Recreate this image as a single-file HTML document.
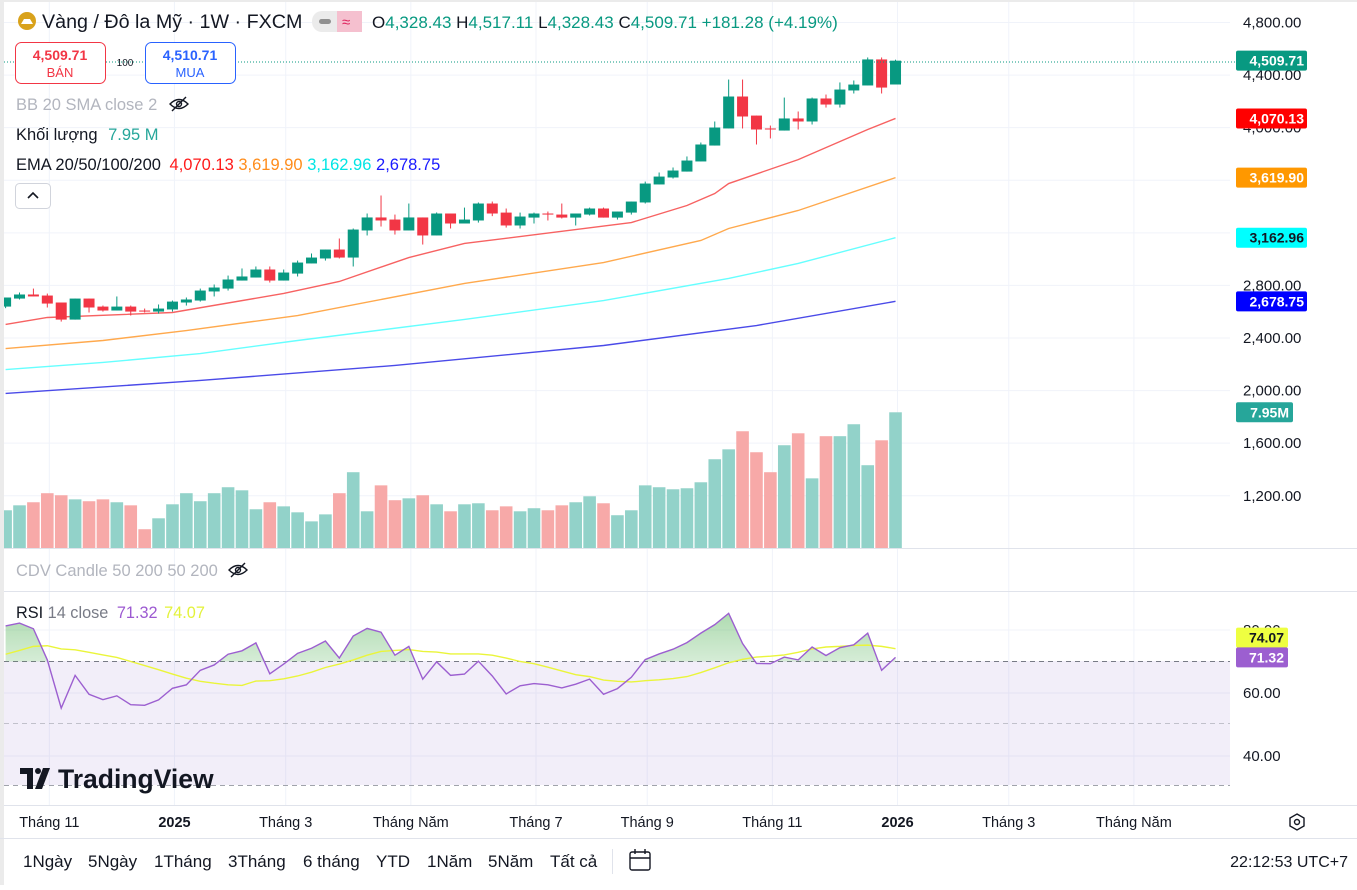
<!DOCTYPE html>
<html><head><meta charset="utf-8">
<style>
html,body{margin:0;padding:0;background:#fff;}
body{width:1357px;height:885px;overflow:hidden;font-family:"Liberation Sans","Noto Sans CJK SC",sans-serif;}
svg text{font-family:"Liberation Sans","Noto Sans CJK SC",sans-serif;}
</style></head>
<body>
<svg id="chart" width="1357" height="885" viewBox="0 0 1357 885" xmlns="http://www.w3.org/2000/svg">
<defs>
<linearGradient id="rsiGreen" x1="0" y1="0" x2="0" y2="1">
<stop offset="0" stop-color="#4caf50" stop-opacity="0.45"/>
<stop offset="1" stop-color="#4caf50" stop-opacity="0.02"/>
</linearGradient>
<clipPath id="plotClip"><rect x="4" y="0" width="1226" height="885"/></clipPath>
<clipPath id="above70"><rect x="4" y="592" width="1226" height="69.5"/></clipPath>
</defs>
<rect x="0" y="0" width="1357" height="885" fill="#fff"/>
<rect x="0" y="0" width="4" height="885" fill="#ebebeb"/>
<rect x="0" y="0" width="1357" height="2" fill="#ebebeb"/>
<g id="grid"></g>
<rect x="4" y="661" width="1226" height="124" fill="#7e57c2" fill-opacity="0.1"/>
<line x1="4" y1="661.5" x2="1230" y2="661.5" stroke="#787b86" stroke-dasharray="5,4"/>
<line x1="4" y1="723.5" x2="1230" y2="723.5" stroke="#a0a3ab" stroke-opacity="0.6" stroke-dasharray="5,4"/>
<line x1="4" y1="785.5" x2="1230" y2="785.5" stroke="#a0a3ab" stroke-dasharray="5,4"/>
<line x1="4" y1="548.5" x2="1357" y2="548.5" stroke="#e0e3eb"/>
<line x1="4" y1="591.5" x2="1357" y2="591.5" stroke="#e0e3eb"/>
<line x1="4" y1="805.5" x2="1357" y2="805.5" stroke="#e0e3eb"/>
<line x1="0" y1="838.5" x2="1357" y2="838.5" stroke="#e0e3eb"/>
<g id="vol" clip-path="url(#plotClip)"></g>
<g id="ema" clip-path="url(#plotClip)"></g>
<g id="candles" clip-path="url(#plotClip)"></g>
<line x1="4" y1="62" x2="1236" y2="62" stroke="#089981" stroke-dasharray="1,2"/>
<g id="rsi" clip-path="url(#plotClip)"></g>
<g id="axis"></g>

<!-- header -->
<circle cx="27" cy="21" r="9" fill="#d9a21b"/>
<path d="M21 24 L33 24 L30 19 L24 19 Z" fill="#fff"/>
<text x="42" y="28" font-size="19.7" fill="#131722">Vàng / Đô la Mỹ · 1W · FXCM</text>
<rect x="312" y="11" width="50" height="21" rx="10" fill="#ebebeb"/>
<rect x="337" y="11" width="25" height="21" rx="0" fill="#f5c0cf"/>
<rect x="319" y="19" width="12" height="5" rx="2.5" fill="#909090"/>
<text x="342" y="27" font-size="15" fill="#e0245e">≈</text>
<text x="372" y="28" font-size="17" fill="#131722">O<tspan fill="#089981">4,328.43</tspan> H<tspan fill="#089981">4,517.11</tspan> L<tspan fill="#089981">4,328.43</tspan> C<tspan fill="#089981">4,509.71</tspan> <tspan fill="#089981">+181.28 (+4.19%)</tspan></text>
<g>
<rect x="15.5" y="42.5" width="90" height="41" rx="6" fill="#fff" stroke="#f23645"/>
<text x="60" y="60" font-size="14" font-weight="bold" fill="#f23645" text-anchor="middle">4,509.71</text>
<text x="60" y="77" font-size="13" fill="#f23645" text-anchor="middle">BÁN</text>
</g>
<text x="125" y="66" font-size="10" fill="#131722" text-anchor="middle">100</text>
<g>
<rect x="145.5" y="42.5" width="90" height="41" rx="6" fill="#fff" stroke="#2962ff"/>
<text x="190" y="60" font-size="14" font-weight="bold" fill="#2962ff" text-anchor="middle">4,510.71</text>
<text x="190" y="77" font-size="13" fill="#2962ff" text-anchor="middle">MUA</text>
</g>
<text x="16" y="110" font-size="16.5" fill="#b2b5be">BB 20 SMA close 2</text>
<g stroke="#131722" stroke-width="1.4" fill="none">
<path d="M170 104 Q179 95 188 104 Q179 113 170 104 Z"/><circle cx="179" cy="104" r="2.5"/><line x1="172" y1="111" x2="186" y2="97"/>
</g>
<text x="16" y="140" font-size="16.5" fill="#131722">Khối lượng <tspan dx="6" fill="#26a69a">7.95 M</tspan></text>
<text x="16" y="170" font-size="16.5" fill="#131722">EMA 20/50/100/200 <tspan dx="4" fill="#ff1a1a">4,070.13</tspan> <tspan fill="#ff8c1a">3,619.90</tspan> <tspan fill="#00e5e5">3,162.96</tspan> <tspan fill="#1a1aff">2,678.75</tspan></text>
<g>
<rect x="15.5" y="183.5" width="35" height="25" rx="4" fill="#fff" stroke="#d1d4dc"/>
<path d="M28 198 L33 193 L38 198" stroke="#131722" stroke-width="1.6" fill="none"/>
</g>
<text x="16" y="576" font-size="16.5" fill="#b2b5be">CDV Candle 50 200 50 200</text>
<g stroke="#131722" stroke-width="1.4" fill="none">
<path d="M229 570 Q238 561 247 570 Q238 579 229 570 Z"/><circle cx="238" cy="570" r="2.5"/><line x1="231" y1="577" x2="245" y2="563"/>
</g>
<text x="16" y="618" font-size="16.3" fill="#131722">RSI <tspan fill="#787b86">14 close</tspan> <tspan dx="4" fill="#9c59d1">71.32</tspan> <tspan dx="2" fill="#e3f23a">74.07</tspan></text>

<g>
<path d="M20 768 L33 768 L33 789 L27 789 L27 774 L20 774 Z" fill="#131722"/>
<circle cx="38" cy="771" r="3" fill="#131722"/>
<path d="M43 768 L50 768 L42 789 L35 789 Z" fill="#131722"/>
<text x="58" y="788" font-size="26.5" font-weight="bold" fill="#131722">TradingView</text>
</g>
<g id="timeaxis"></g>
<g fill="none" stroke="#131722" stroke-width="1.4">
<path d="M1297 814 L1304 818 L1304 826 L1297 830 L1290 826 L1290 818 Z"/><circle cx="1297" cy="822" r="2.5"/>
</g>
<g id="toolbar"></g>
<line x1="612.5" y1="849" x2="612.5" y2="874" stroke="#e0e3eb"/>
<g fill="none" stroke="#131722" stroke-width="1.4">
<rect x="630" y="852" width="20" height="18" rx="2"/><line x1="630" y1="858" x2="650" y2="858"/><line x1="635" y1="849" x2="635" y2="854"/><line x1="645" y1="849" x2="645" y2="854"/>
</g>
<text x="1348" y="867" font-size="16" fill="#131722" text-anchor="end">22:12:53 UTC+7</text>
</svg>
<script>
const opens=[2639,2700,2731,2723,2670,2540,2700,2639,2609,2639,2609,2601,2617,2670,2685,2754,2776,2837,2860,2921,2837,2890,2967,3005,3073,3012,3218,3317,3301,3218,3317,3180,3347,3271,3294,3423,3354,3256,3316,3347,3339,3316,3339,3385,3316,3354,3431,3568,3621,3666,3743,3864,3994,4237,4092,3994,3978,4070,4047,4222,4176,4283,4321,4519,4328.43];
const highs=[2708,2746,2776,2738,2670,2700,2700,2647,2716,2647,2624,2655,2685,2708,2776,2807,2875,2929,2944,2944,2921,2989,3043,3073,3157,3233,3347,3484,3339,3423,3317,3355,3347,3392,3431,3438,3385,3354,3354,3362,3423,3347,3392,3392,3362,3438,3590,3659,3697,3781,3887,4047,4366,4366,4092,4016,4229,4123,4229,4252,4344,4359,4534,4534,4517.11];
const lows=[2627,2693,2716,2632,2525,2540,2594,2601,2609,2571,2594,2586,2601,2647,2677,2716,2761,2837,2860,2822,2837,2868,2967,2989,3005,2944,3180,3248,3187,3218,3111,3180,3233,3271,3278,3327,3240,3233,3271,3294,3309,3256,3332,3316,3301,3339,3423,3568,3613,3666,3743,3864,3994,3994,3872,3918,3978,3986,4024,4153,4153,4260,4321,4260,4328.43];
const closes=[2708,2731,2716,2662,2540,2700,2632,2609,2639,2601,2601,2624,2677,2693,2761,2784,2845,2868,2921,2837,2898,2974,3012,3073,3012,3225,3317,3294,3218,3317,3180,3347,3271,3301,3423,3347,3256,3324,3347,3339,3316,3347,3385,3316,3362,3438,3575,3628,3674,3750,3872,4001,4237,4085,3986,3986,4070,4047,4222,4176,4290,4328,4519,4305,4509.71];
const volumes=[2.21,2.50,2.68,3.21,3.09,2.85,2.74,2.85,2.68,2.50,1.10,1.74,2.56,3.21,2.74,3.21,3.56,3.38,2.27,2.68,2.44,2.09,1.56,1.97,3.21,4.44,2.15,3.67,2.80,2.91,3.09,2.56,2.15,2.56,2.62,2.21,2.44,2.15,2.33,2.21,2.50,2.68,3.03,2.62,1.92,2.21,3.67,3.56,3.44,3.50,3.85,5.20,5.78,6.84,5.61,4.44,6.02,6.72,4.08,6.55,6.55,7.25,4.85,6.31,7.95];
const ema20Idx=[0,3,12,20,24,29,33,45,49,51,52,57,62,64];
const ema20=[2503,2556,2594,2739,2830,3012,3119,3278,3408,3499,3575,3757,3986,4070.13];
const ema50Idx=[0,7,13,21,33,43,50,52,57,64];
const ema50=[2320,2381,2457,2571,2815,2974,3142,3233,3370,3619.9];
const ema100Idx=[0,7,14,21,33,43,52,57,64];
const ema100=[2160,2214,2282,2381,2541,2685,2853,2967,3162.96];
const ema200Idx=[0,14,28,43,54,64];
const ema200=[1978,2077,2191,2343,2495,2678.75];
const rsiValues=[81.3,82.2,80.4,70.5,55.2,65.6,59.6,57.9,59.1,56.3,56.1,57.8,61.5,62.6,67.2,68.9,72.3,73.4,75.9,66.1,69.2,72.6,74.2,76.5,71.1,78.1,80.5,79.3,72.0,74.8,64.4,69.9,65.6,66.0,70.1,65.4,59.7,62.3,63.0,62.6,61.6,62.8,64.4,59.6,61.4,65.0,70.6,72.4,73.9,76.0,79.0,81.7,85.3,75.7,69.4,69.3,71.4,70.5,74.6,71.9,74.4,75.3,79.0,67.2,71.32];
const rsiMA=[72.3,73.5,74.8,75.0,74.0,73.7,72.9,72.1,71.3,70.0,68.7,67.4,66.0,64.7,63.7,63.1,62.6,62.4,63.8,63.9,64.5,65.4,66.6,68.1,69.2,70.5,72.0,73.2,73.5,73.8,73.2,73.0,72.4,72.4,72.4,72.0,71.1,70.0,69.3,68.2,67.0,65.8,65.2,64.1,63.7,63.5,63.9,64.2,64.6,65.2,66.5,68.0,69.6,70.7,71.4,71.7,72.1,72.9,74.0,74.6,74.8,75.1,75.2,74.8,74.07];
const priceTicks=[4800,4400,4000,3600,3200,2800,2400,2000,1600,1200];
const priceTickLabels=["4,800.00","4,400.00","4,000.00","3,600.00","3,200.00","2,800.00","2,400.00","2,000.00","1,600.00","1,200.00"];
const rsiTicks=[80,60,40];
const rsiTickLabels=["80.00","60.00","40.00"];
const timeLabels=["Tháng 11","2025","Tháng 3","Tháng Năm","Tháng 7","Tháng 9","Tháng 11","2026","Tháng 3","Tháng Năm"];
const timeLabelIdx=[3,12,20,29,38,46,55,64,72,81];
const timeLabelBold=[false,true,false,false,false,false,false,true,false,false];
const rangeButtons=["1Ngày","5Ngày","1Tháng","3Tháng","6 tháng","YTD","1Năm","5Năm","Tất cả"];

const NS="http://www.w3.org/2000/svg";
const X0=5.6, STEP=13.905;
const xOf=i=>X0+i*STEP;
const yP=p=>22.5+(4800-p)*0.13146;
const VOLBASE=548, VOLK=17.07;
const yV=v=>VOLBASE-v*VOLK;
const yR=r=>661.5-(r-70)*3.15;
function mk(tag,attrs,parent){const e=document.createElementNS(NS,tag);for(const k in attrs)e.setAttribute(k,attrs[k]);parent.appendChild(e);return e;}

// grid
const grid=document.getElementById('grid');
priceTicks.forEach(p=>{const l=mk('line',{x1:4,x2:1230,y1:yP(p),y2:yP(p),stroke:'#f0f3fa'},grid);

});
rsiTicks.forEach(r=>{const l=mk('line',{x1:4,x2:1230,y1:yR(r),y2:yR(r),stroke:'#f0f3fa'},grid);

});
timeLabelIdx.forEach(i=>{const x=xOf(i)+2;const l=mk('line',{x1:x,x2:x,y1:2,y2:805,stroke:'#f0f3fa'},grid);

});

// volume
const vol=document.getElementById('vol');
volumes.forEach((v,i)=>{const up=closes[i]>=opens[i];
const r=mk('rect',{x:xOf(i)-6.3,y:yV(v),width:12.6,height:v*VOLK,fill:up?'#92d2c9':'#f7a9a8'},vol);

});

// ema
const ema=document.getElementById('ema');
[[ema200Idx,ema200,'#4a4ae8','ema-200-line'],[ema100Idx,ema100,'#66ffff','ema-100-line'],[ema50Idx,ema50,'#ffa94d','ema-50-line'],[ema20Idx,ema20,'#f76262','ema-20-line']].forEach(s=>{
const pts=s[0].map((ix,k)=>xOf(ix)+','+yP(s[1][k])).join(' ');
const pl=mk('polyline',{points:pts,fill:'none',stroke:s[2],'stroke-width':1.4},ema);

});

// candles
const cg=document.getElementById('candles');
opens.forEach((o,i)=>{const c=closes[i],up=c>=o,col=up?'#089981':'#f23645',x=xOf(i);
const g=mk('g',{},cg);


mk('line',{x1:x,x2:x,y1:yP(highs[i]),y2:yP(lows[i]),stroke:col,'stroke-width':1},g);
const t=yP(Math.max(o,c)),b=yP(Math.min(o,c));
mk('rect',{x:x-5.5,y:t,width:11,height:Math.max(1,b-t),fill:col},g);});

// rsi
const rg=document.getElementById('rsi');
const rpts=rsiValues.map((r,i)=>xOf(i)+','+yR(r));
const area=mk('polygon',{points:xOf(0)+','+yR(70)+' '+rpts.join(' ')+' '+xOf(rsiValues.length-1)+','+yR(70),fill:'url(#rsiGreen)','clip-path':'url(#above70)'},rg);


const ma=mk('polyline',{points:rsiMA.map((r,i)=>xOf(i)+','+yR(r)).join(' '),fill:'none',stroke:'#eaf53a','stroke-width':1.4},rg);


const rl=mk('polyline',{points:rpts.join(' '),fill:'none',stroke:'#9c5fd0','stroke-width':1.4},rg);



// axis labels
const ax=document.getElementById('axis');
priceTicks.forEach((p,k)=>{const t=mk('text',{x:1243,y:yP(p)+5,'font-size':15,fill:'#131722'},ax);t.textContent=priceTickLabels[k];

});
rsiTicks.forEach((r,k)=>{const t=mk('text',{x:1243,y:yR(r)+5,'font-size':15,fill:'#131722'},ax);t.textContent=rsiTickLabels[k];

});
const badges=[[closes[64],'4,509.71','#089981','#fff',71,'last-price-badge',0],[ema20[ema20.length-1],'4,070.13','#ff0000','#fff',71,'ema-20-badge',0],[ema50[ema50.length-1],'3,619.90','#ff9800','#fff',71,'ema-50-badge',0],[ema100[ema100.length-1],'3,162.96','#00ffff','#131722',71,'ema-100-badge',0],[ema200[ema200.length-1],'2,678.75','#0000ff','#fff',71,'ema-200-badge',0]];
badges.forEach(b=>{const y=yP(b[0])+b[6];const g=mk('g',{},ax);


mk('rect',{x:1236,y:y-10,width:b[4],height:20,rx:2,fill:b[2]},g);
const t=mk('text',{x:1304,y:y+5,'font-size':14,'font-weight':'bold',fill:b[3],'text-anchor':'end'},g);t.textContent=b[1];});
// volume badge
(function(){const y=yV(volumes[64]);const g=mk('g',{},ax);


mk('rect',{x:1236,y:y-10,width:57,height:20,rx:2,fill:'#26a69a'},g);
const t=mk('text',{x:1289,y:y+5,'font-size':14,'font-weight':'bold',fill:'#fff','text-anchor':'end'},g);t.textContent='7.95M';})();
// rsi badges
[[rsiMA[64],'74.07','#eeff41','#131722','rsi-ma-badge',-11],[rsiValues[64],'71.32','#9c5fd0','#fff','rsi-badge',0]].forEach(b=>{const y=yR(b[0])+b[5];const g=mk('g',{},ax);


mk('rect',{x:1236,y:y-10,width:52,height:20,rx:2,fill:b[2]},g);
const t=mk('text',{x:1284,y:y+5,'font-size':14,'font-weight':'bold',fill:b[3],'text-anchor':'end'},g);t.textContent=b[1];});

// time axis
const ta=document.getElementById('timeaxis');
timeLabels.forEach((s,k)=>{const t=mk('text',{x:xOf(timeLabelIdx[k])+2,y:827,'font-size':14.5,fill:'#131722','text-anchor':'middle','font-weight':timeLabelBold[k]?'bold':'normal'},ta);t.textContent=s;

});

// toolbar
const tb=document.getElementById('toolbar');
const bx=[23,88,154,228,303,376,427,488,550];
rangeButtons.forEach((s,k)=>{const t=mk('text',{x:bx[k],y:867,'font-size':17,fill:'#131722'},tb);t.textContent=s;

});
</script>
</body></html>
